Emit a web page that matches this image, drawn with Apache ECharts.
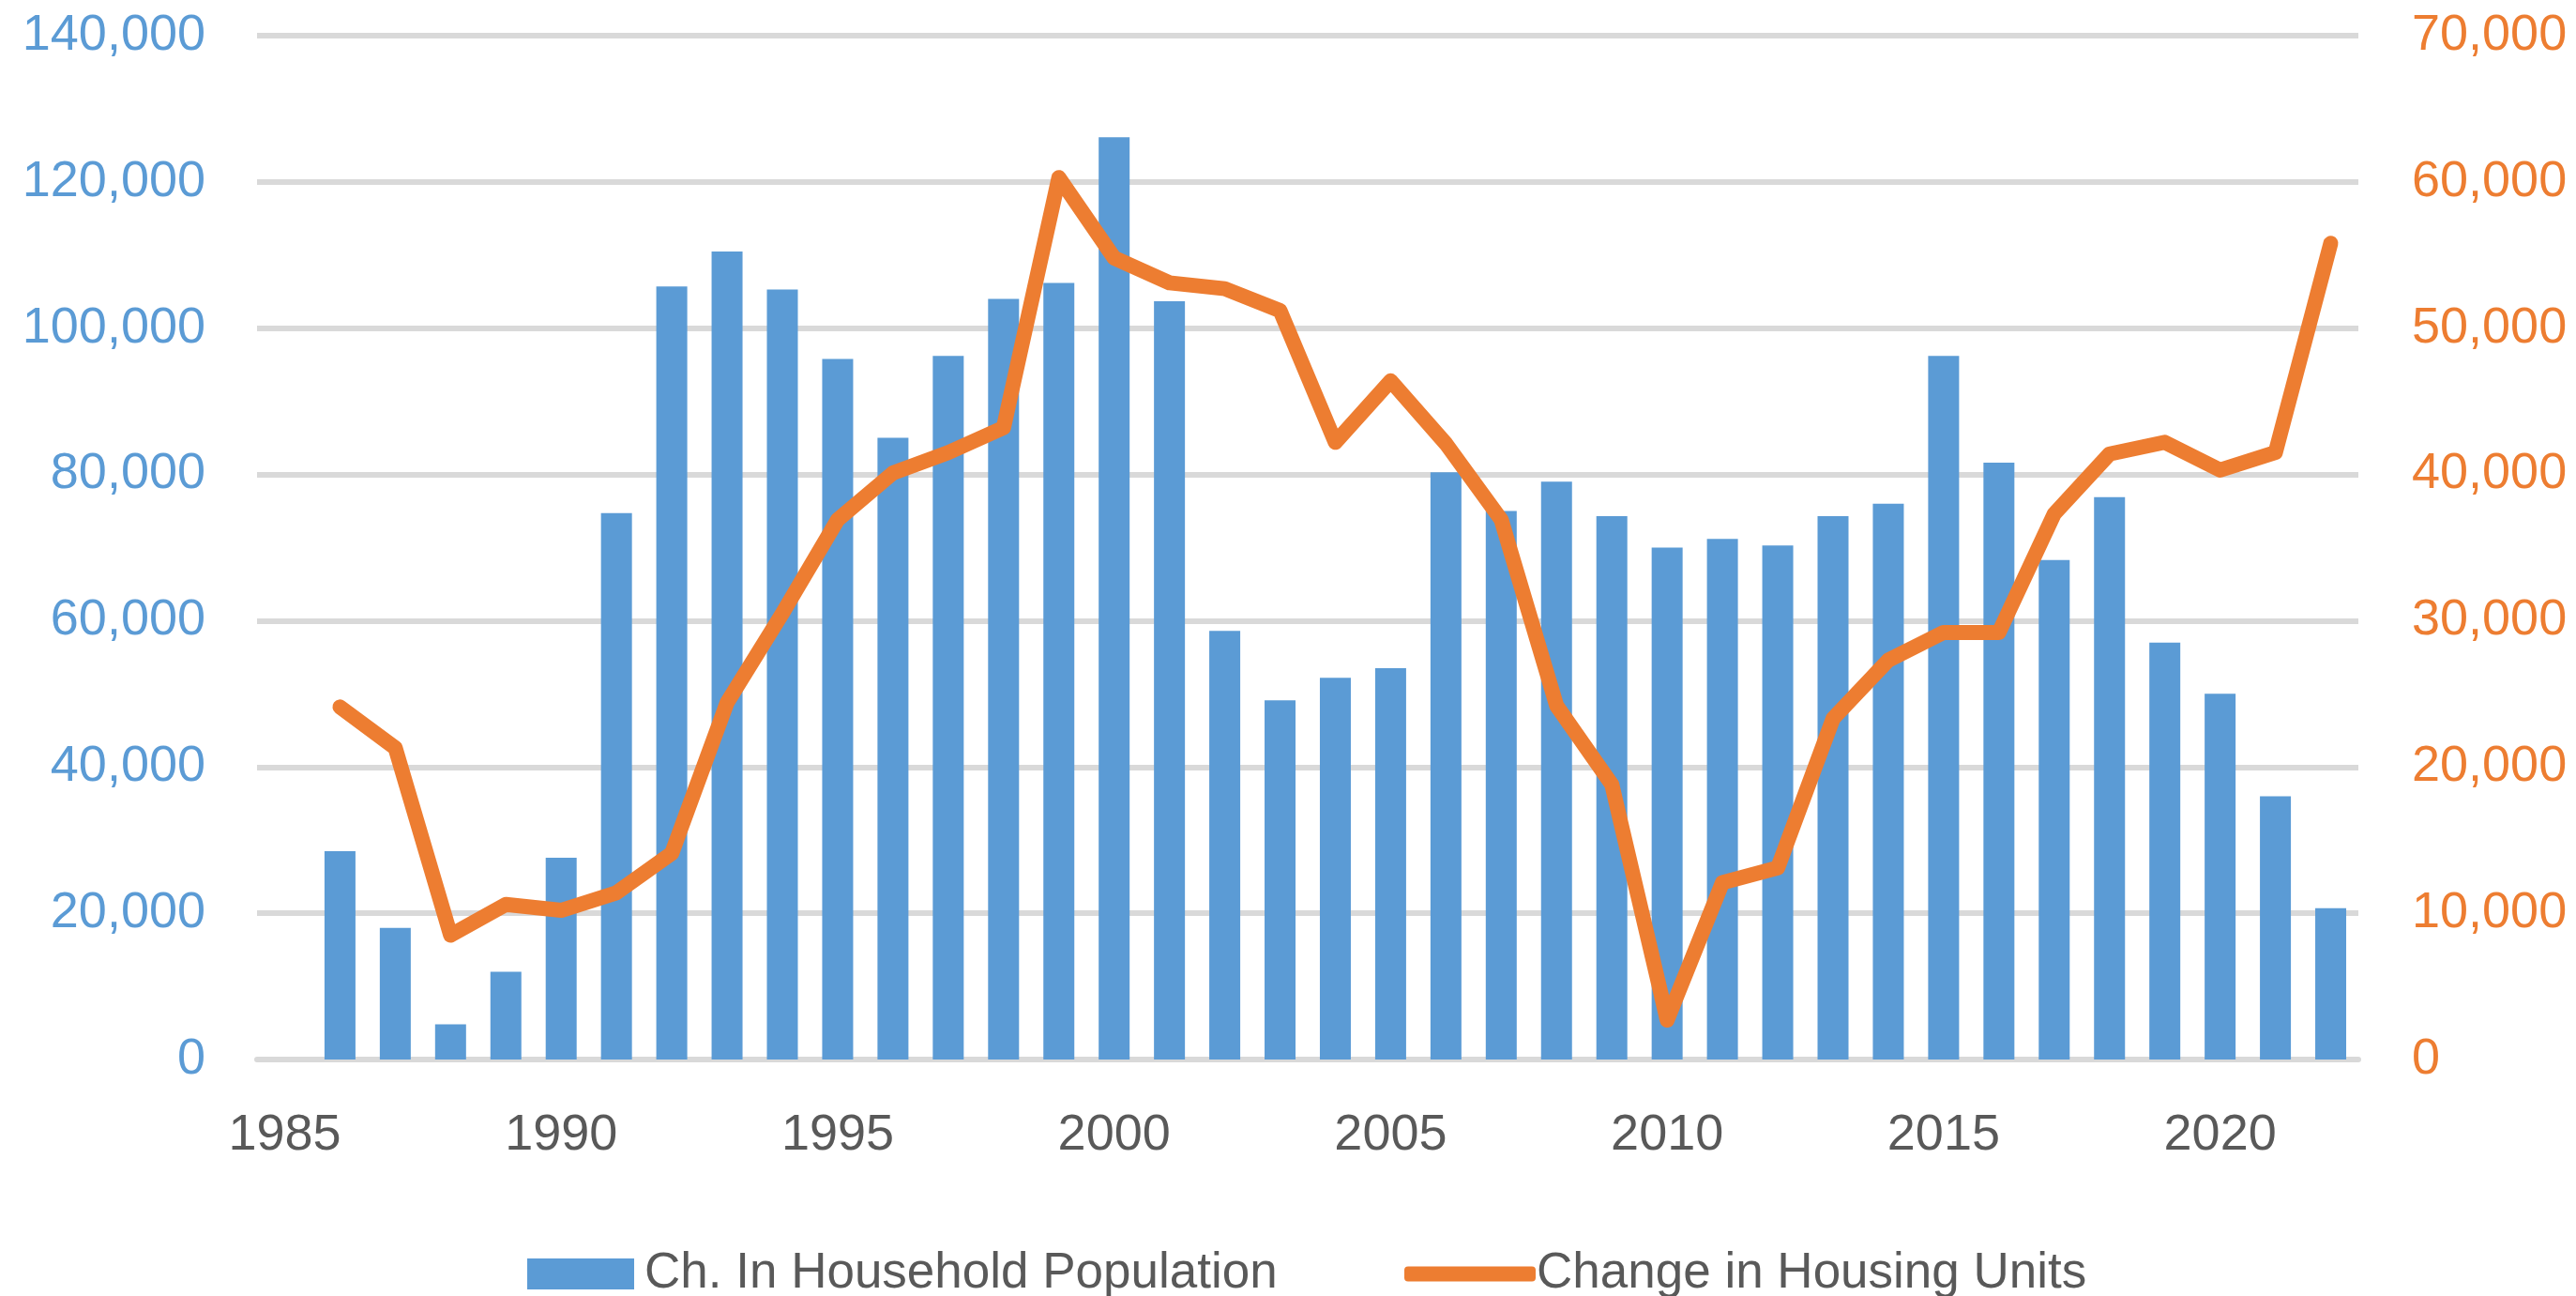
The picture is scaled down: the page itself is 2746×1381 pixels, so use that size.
<!DOCTYPE html>
<html>
<head>
<meta charset="utf-8">
<script src="https://cdn.jsdelivr.net/npm/echarts@6/dist/echarts.min.js"></script>
<style>
  html, body { margin: 0; padding: 0; background: #ffffff; }
  #chart { width: 2746px; height: 1381px; }
</style>
</head>
<body>
<div id="chart"></div>
<script>
// years on the x axis (1985 is an empty slot, like in the original)
var years = ['1985', '1986', '1987', '1988', '1989', '1990', '1991', '1992', '1993', '1994',
    '1995', '1996', '1997', '1998', '1999', '2000', '2001', '2002', '2003', '2004',
    '2005', '2006', '2007', '2008', '2009', '2010', '2011', '2012', '2013', '2014',
    '2015', '2016', '2017', '2018', '2019', '2020', '2021', '2022'];

// Ch. In Household Population (left axis)
var hhPop = [null, 28500, 18000, 4800, 12000, 27600, 74700, 105700, 110500, 105300,
    95800, 85000, 96200, 104000, 106200, 126100, 103700, 58600, 49100, 52200,
    53500, 80300, 75000, 79000, 74300, 70000, 71200, 70300, 74300, 76000,
    96200, 81600, 68300, 76900, 57000, 50000, 36000, 20700];

// Change in Housing Units (right axis)
var housingUnits = [null, 24100, 21300, 8500, 10600, 10200, 11400, 14100, 24400, 30500,
    36900, 40100, 41500, 43200, 60300, 54800, 53100, 52700, 51200, 42200,
    46400, 42100, 36900, 24200, 18800, 2700, 12100, 13100, 23300, 27300,
    29200, 29200, 37300, 41400, 42200, 40300, 41500, 55800];

var seriesNames = ['Ch. In Household Population', 'Change in Housing Units'];

var FONT = 'Liberation Sans';
var BLUE = '#5B9BD5';
var ORANGE = '#ED7D31';
var GRAY = '#595959';

var chart = echarts.init(document.getElementById('chart'));

var fmt = function (v) {
    return v.toLocaleString('en-US');
};

var option = {
    backgroundColor: '#ffffff',
    animation: false,
    grid: {
        left: 274,
        right: 232,
        top: 38,
        bottom: 252
    },
    legend: [
        {
            data: [{ name: seriesNames[0], icon: 'rect' }],
            left: 557,
            top: 1326,
            itemWidth: 114,
            itemHeight: 33,
            itemGap: 0,
            textStyle: { fontFamily: FONT, fontSize: 53, color: GRAY, padding: [0, 0, 0, 6] }
        },
        {
            data: [{ name: seriesNames[1], icon: 'roundRect' }],
            left: 1492,
            top: 1326,
            itemWidth: 140,
            itemHeight: 16,
            itemGap: 0,
            itemStyle: { color: ORANGE },
            textStyle: { fontFamily: FONT, fontSize: 53, color: GRAY, padding: [0, 0, 0, -4] }
        }
    ],
    xAxis: {
        type: 'category',
        data: years,
        axisTick: { show: false },
        axisLine: { show: true, lineStyle: { color: '#D9D9D9', width: 6 } },
        axisLabel: {
            interval: 4,
            margin: 54,
            fontFamily: FONT,
            fontSize: 54,
            color: GRAY
        }
    },
    yAxis: [
        {
            type: 'value',
            min: 0,
            max: 140000,
            interval: 20000,
            axisLine: { show: false },
            axisTick: { show: false },
            splitLine: { lineStyle: { color: '#D9D9D9', width: 6 } },
            axisLabel: {
                margin: 55,
                fontFamily: FONT,
                fontSize: 54,
                color: BLUE,
                formatter: fmt
            }
        },
        {
            type: 'value',
            min: 0,
            max: 70000,
            interval: 10000,
            axisLine: { show: false },
            axisTick: { show: false },
            splitLine: { show: false },
            axisLabel: {
                margin: 57,
                fontFamily: FONT,
                fontSize: 54,
                color: ORANGE,
                formatter: fmt
            }
        }
    ],
    series: [
        {
            name: seriesNames[0],
            type: 'bar',
            yAxisIndex: 0,
            data: hhPop,
            barWidth: 33,
            itemStyle: { color: BLUE }
        },
        {
            name: seriesNames[1],
            type: 'line',
            yAxisIndex: 1,
            data: housingUnits,
            symbol: 'none',
            z: 5,
            lineStyle: { color: ORANGE, width: 16, cap: 'round', join: 'round' },
            itemStyle: { color: ORANGE }
        }
    ]
};

chart.setOption(option);
</script>
</body>
</html>
